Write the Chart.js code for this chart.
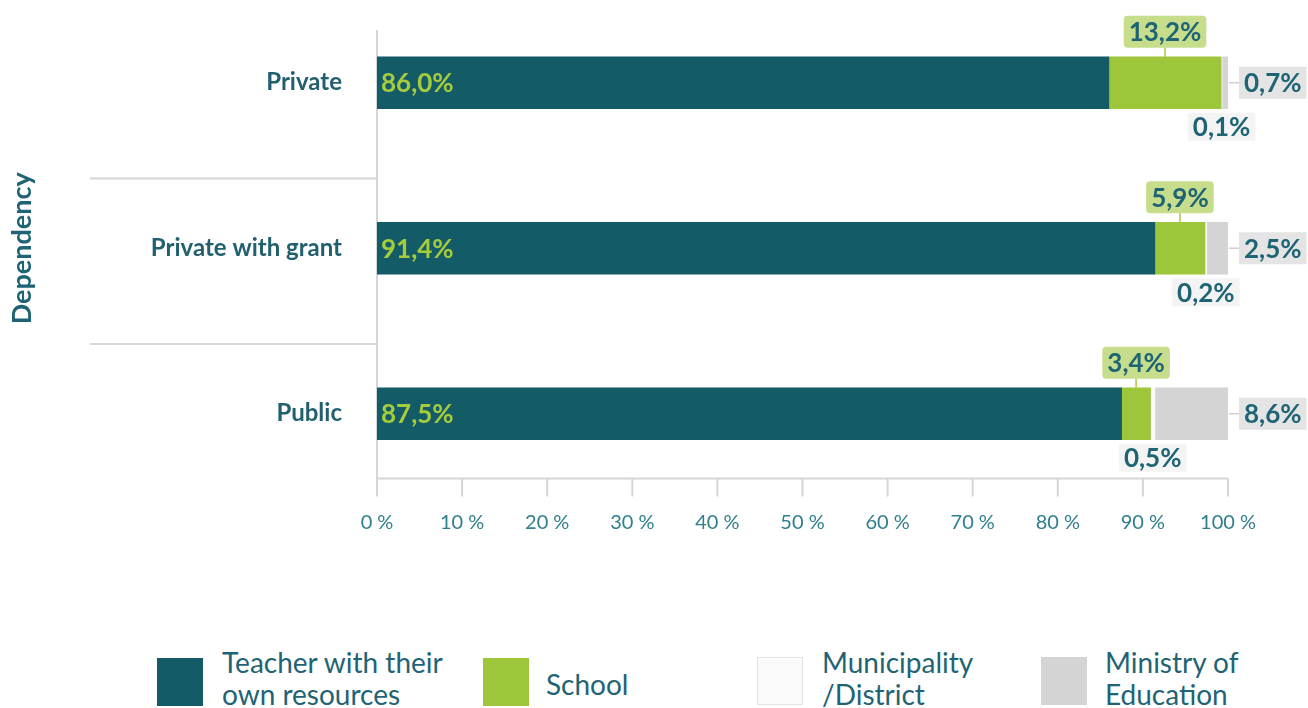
<!DOCTYPE html>
<html>
<head>
<meta charset="utf-8">
<script src="https://cdn.jsdelivr.net/npm/chart.js@4.4.1/dist/chart.umd.min.js"></script>
<style>
  html, body { margin: 0; padding: 0; background: #fff; overflow: hidden; }
  #wrap { position: relative; width: 1308px; height: 708px; font-family: Lato, "Open Sans", sans-serif; }
  #chart { position: absolute; left: 0; top: 0; }
  .sw { position: absolute; width: 46px; height: 48px; box-sizing: border-box; }
  .lt { position: absolute; font-size: 28px; line-height: 32px; color: #1f6474; white-space: nowrap; }
</style>
</head>
<body>
<div id="wrap">
  <canvas id="chart" width="1308" height="560"></canvas>
  <!-- legend -->
  <div class="sw" style="left:157px;top:658px;background:#145b68"></div>
  <div class="lt" style="left:222px;top:646px">Teacher with their<br>own resources</div>
  <div class="sw" style="left:483px;top:658px;background:#9dc63b"></div>
  <div class="lt" style="left:546px;top:668px">School</div>
  <div class="sw" style="left:757px;top:657px;background:#fafafa;border:1px solid #e4e4e4"></div>
  <div class="lt" style="left:822px;top:646px">Municipality<br>/District</div>
  <div class="sw" style="left:1041px;top:657px;background:#d4d4d4"></div>
  <div class="lt" style="left:1105px;top:646px">Ministry of<br>Education</div>
</div>
<script>
  "use strict";

  // Chart data
  var categories = ["Private", "Private with grant", "Public"];
  var teacherValues = [86.0, 91.4, 87.5];
  var schoolValues = [13.2, 5.9, 3.4];
  var municipalityValues = [0.1, 0.2, 0.5];
  var ministryValues = [0.7, 2.5, 8.6];

  var teal = "#145b68";
  var textTeal = "#1f6474";

  function fmt(v) {
    return v.toFixed(1).replace(".", ",") + "%";
  }

  // Draws axis lines, separators and value labels
  var annotate = {
    id: "annotate",
    beforeDatasetsDraw(chart) {
      const { ctx, chartArea: a, scales } = chart;
      const x = scales.x, y = scales.y;
      const x0 = x.getPixelForValue(0);
      const axisY = a.bottom - 18;
      ctx.save();
      ctx.strokeStyle = "#d6d6d6";
      ctx.lineWidth = 2;
      ctx.beginPath();
      ctx.moveTo(x0, a.top + 30);
      ctx.lineTo(x0, axisY);
      ctx.moveTo(x0, axisY);
      ctx.lineTo(x.getPixelForValue(100), axisY);
      x.ticks.forEach((t) => {
        const px = x.getPixelForValue(t.value);
        ctx.moveTo(px, axisY);
        ctx.lineTo(px, a.bottom);
      });
      for (let i = 0; i < categories.length - 1; i++) {
        const sy = (y.getPixelForValue(i) + y.getPixelForValue(i + 1)) / 2 + 13;
        ctx.moveTo(90, sy);
        ctx.lineTo(x0, sy);
      }
      ctx.stroke();
      ctx.restore();
    },
    afterDatasetsDraw(chart) {
      const ctx = chart.ctx;
      ctx.save();
      ctx.textBaseline = "middle";
      const bars = (i) => chart.getDatasetMeta(i).data.map((el) => el.getProps(["x", "y", "base", "height"], true));

      // teacher: inside bar, left
      ctx.font = "bold 26px Lato";
      ctx.fillStyle = "#a6cc3c";
      ctx.textAlign = "left";
      bars(0).forEach((b, j) => {
        ctx.fillText(fmt(teacherValues[j]), b.base + 4, b.y + 1);
      });

      // school: boxed label above
      bars(1).forEach((b, j) => {
        const t = fmt(schoolValues[j]);
        const cx = (b.base + b.x) / 2;
        const top = b.y - b.height / 2;
        const w = ctx.measureText(t).width + 10;
        const bh = 32;
        ctx.strokeStyle = "#a6cc3c";
        ctx.lineWidth = 1.5;
        ctx.beginPath();
        ctx.moveTo(cx, top - 9);
        ctx.lineTo(cx, top);
        ctx.stroke();
        ctx.fillStyle = "#c6de8c";
        ctx.beginPath();
        ctx.roundRect(cx - w / 2, top - 9 - bh, w, bh, 4);
        ctx.fill();
        ctx.fillStyle = textTeal;
        ctx.textAlign = "center";
        ctx.fillText(t, cx, top - 9 - bh / 2 + 1);
      });

      // municipality: below bar
      bars(2).forEach((b, j) => {
        const t = fmt(municipalityValues[j]);
        const cx = (b.base + b.x) / 2;
        const cy = b.y + b.height / 2 + 18;
        const w = ctx.measureText(t).width + 10;
        ctx.fillStyle = "#f4f4f4";
        ctx.fillRect(cx - w / 2, cy - 14, w, 28);
        ctx.fillStyle = textTeal;
        ctx.textAlign = "center";
        ctx.fillText(t, cx, cy + 1);
      });

      // ministry: boxed label right of bar
      bars(3).forEach((b, j) => {
        const t = fmt(ministryValues[j]);
        const left = b.x + 11;
        const w = ctx.measureText(t).width + 10;
        ctx.strokeStyle = "#cfcfcf";
        ctx.lineWidth = 1.5;
        ctx.beginPath();
        ctx.moveTo(b.x + 1, b.y);
        ctx.lineTo(left, b.y);
        ctx.stroke();
        ctx.fillStyle = "#e4e4e4";
        ctx.fillRect(left, b.y - 16, w, 32);
        ctx.fillStyle = textTeal;
        ctx.textAlign = "left";
        ctx.fillText(t, left + 5, b.y + 1);
      });
      ctx.restore();
    },
  };

  var ctx = document.getElementById("chart").getContext("2d");

  new Chart(ctx, {
    type: "bar",
    data: {
      labels: categories,
      datasets: [
        { label: "Teacher with their own resources", data: teacherValues, backgroundColor: teal },
        { label: "School", data: schoolValues, backgroundColor: "#9dc63b" },
        { label: "Municipality /District", data: municipalityValues, backgroundColor: "#fbfbfb" },
        { label: "Ministry of Education", data: ministryValues, backgroundColor: "#d4d4d4" },
      ],
    },
    options: {
      indexAxis: "y",
      responsive: false,
      animation: false,
      layout: { padding: { left: 0, right: 80, top: 0, bottom: 0 } },
      datasets: { bar: { barThickness: 52, borderWidth: 0 } },
      plugins: {
        legend: { display: false },
        tooltip: { enabled: false },
      },
      scales: {
        x: {
          stacked: true,
          min: 0,
          max: 100,
          border: { display: false },
          grid: { display: false },
          ticks: {
            stepSize: 10,
            padding: 6,
            color: "#2f7f8c",
            font: { family: "Lato", size: 20 },
            callback: (v) => v + " %",
          },
          afterFit: (s) => { s.height = 63.5; },
        },
        y: {
          stacked: true,
          border: { display: false },
          grid: { display: false },
          ticks: {
            padding: 27,
            color: "#22606f",
            font: { family: "Lato", size: 24, weight: "bold" },
          },
          title: {
            display: true,
            text: "Dependency",
            color: textTeal,
            font: { family: "Lato", size: 27, weight: "bold" },
            padding: { top: 6, bottom: 0 },
          },
          afterFit: (s) => {
            s.width = 377;
            s.paddingTop = 0;
            s.paddingBottom = 0;
          },
        },
      },
    },
    plugins: [annotate],
  });
</script>
</body>
</html>
